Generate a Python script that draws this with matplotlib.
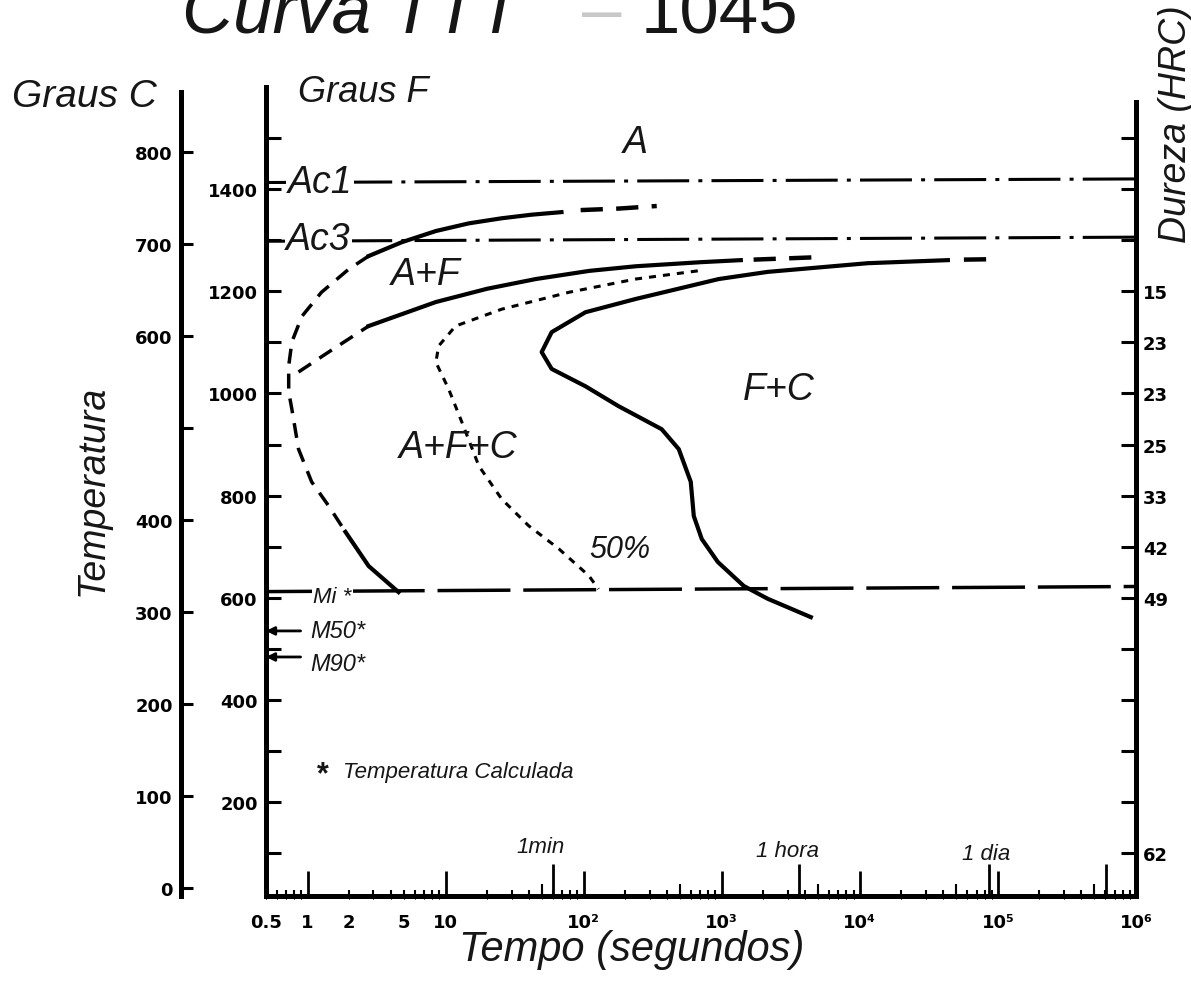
import matplotlib

matplotlib.use("Agg")
import matplotlib.pyplot as plt
import numpy as np

# Time in seconds, temperature in degrees F
AC1_T = [0.5, 1e6]
AC1_F = [1413, 1420]
AC3_T = [0.5, 1e6]
AC3_F = [1298, 1306]
MS_T = [0.5, 1e6]
MS_F = [612, 622]

# ferrite start, upper solid branch and its dashed tail
FS_T = [2.77, 4.8, 8.5, 14.7, 25.5, 42, 69]
FS_F = [1269, 1296, 1318, 1333, 1343, 1350, 1355]
FS_TAIL_T = [95, 180, 338]
FS_TAIL_F = [1359, 1362, 1367]

# outer nose (dashed) and its solid lower end
NOSE_T = [2.77, 1.98, 1.26, 0.91, 0.77, 0.73, 0.73, 0.77, 0.86, 1.07, 1.42, 1.88]
NOSE_F = [1269, 1243, 1198, 1151, 1101, 1054, 1003, 969, 891, 827, 780, 729]
LOW_T = [1.88, 2.77, 4.56]
LOW_F = [729, 662, 611]

# transformation start curve
PS_DASH_T = [0.86, 1.42, 2.77]
PS_DASH_F = [1042, 1081, 1132]
PS_T = [2.77, 8.5, 20, 45, 110, 238, 705, 1374]
PS_F = [1132, 1179, 1205, 1224, 1240, 1249, 1257, 1261]
PS_TAIL_T = [1700, 5200]
PS_TAIL_F = [1262, 1267]

# 50 % curve
HALF_T = [670, 238, 78, 25.5, 11.8, 8.9, 8.5, 10.5, 13.1, 17.4, 25.5, 39.9, 65.9, 109, 128]
HALF_F = [1240, 1224, 1198, 1165, 1132, 1093, 1061, 1009, 944, 858, 793, 741, 696, 643, 617]

# transformation finish curve
PF_T = [43400, 11400, 2150, 951, 406, 238, 103, 58.6, 49.6, 58.6, 103, 179,
        367, 488, 596, 627, 716, 936, 1443, 2150, 4415]
PF_F = [1261, 1255, 1238, 1224, 1200, 1185, 1159, 1120, 1081, 1048, 1014, 975,
        930, 891, 827, 760, 715, 670, 623, 598, 562]
PF_TAIL_T = [56700, 101600]
PF_TAIL_F = [1262, 1263]

# martensite temperatures (deg F)
M50_F = 535
M90_F = 484

# axis ticks
F_MAJOR = [200, 400, 600, 800, 1000, 1200, 1400]
F_MINOR = [100, 300, 500, 700, 900, 1100, 1300, 1500]
C_TICKS = [0, 100, 200, 300, 400, 500, 600, 700, 800]
C_LABELS = ["0", "100", "200", "300", "400", "", "600", "700", "800"]
HRC_TICKS = [100, 200, 300, 400, 500, 600, 700, 800, 900, 1000, 1100, 1200, 1300, 1400, 1500]
HRC_LABELS = ["62", "", "", "", "", "49", "42", "33", "25", "23", "23", "15", "", "", ""]
T_DECADES = [1, 10, 1e2, 1e3, 1e4, 1e5]
T_DECADE_LABELS = ["1", "10", "10²", "10³", "10⁴", "10⁵"]
T_SPECIAL = [60, 3600, 86400, 604800]   # 1 min, 1 hour, 1 day, 1 week

LABEL_FONT = "Liberation Sans"
TICK_FONT = dict(family="DejaVu Sans", weight="bold", size=13)
INK = "#161616"

fig = plt.figure(figsize=(11.91, 9.95), dpi=100)
W, H = 1191, 995
ax = fig.add_axes([266 / W, 1 - 897 / H, 870 / W, (897 - 88) / H])
ax.set_xscale("log")
ax.set_xlim(0.5, 1e6)
ax.set_ylim(16, 1600)

# reference lines
ax.plot(AC1_T, AC1_F, color="black", lw=2.2, ls=(0, (17, 3, 1.3, 3)))
ax.plot(AC3_T, AC3_F, color="black", lw=2.2, ls=(0, (17, 3, 1.3, 3)))
ax.plot(MS_T, MS_F, color="black", lw=2.5, ls=(0, (21, 3.7)))

# transformation curves
ax.plot(FS_T, FS_F, color="black", lw=3)
ax.plot(FS_TAIL_T, FS_TAIL_F, color="black", lw=3.2, ls=(0, (5, 3)))
ax.plot(NOSE_T, NOSE_F, color="black", lw=2.5, ls=(0, (4.3, 2.9)))
ax.plot(LOW_T, LOW_F, color="black", lw=3)
ax.plot(PS_DASH_T, PS_DASH_F, color="black", lw=2.5, ls=(0, (4.3, 2.9)))
ax.plot(PS_T, PS_F, color="black", lw=3)
ax.plot(PS_TAIL_T, PS_TAIL_F, color="black", lw=3.2, ls=(0, (5, 3)))
ax.plot(HALF_T, HALF_F, color="black", lw=2.2, ls=(0, (2.3, 2.3)))
ax.plot(PF_T, PF_F, color="black", lw=3)
ax.plot(PF_TAIL_T, PF_TAIL_F, color="black", lw=3.2, ls=(0, (5, 3)))

for temp in (M50_F, M90_F):
    ax.annotate("", xy=(0.5, temp), xytext=(0.89, temp),
                arrowprops=dict(arrowstyle="-|>", lw=2, color="black",
                                mutation_scale=12, shrinkA=0, shrinkB=0))

# spines
for side in ("top", "right"):
    ax.spines[side].set_visible(False)
ax.spines["left"].set_linewidth(3.6)
ax.spines["bottom"].set_linewidth(3.6)

# Fahrenheit axis
ax.set_yticks(F_MAJOR, [str(v) for v in F_MAJOR])
ax.set_yticks(F_MINOR, minor=True)
ax.tick_params(axis="y", which="both", direction="in", length=11, width=2.2, pad=6)
for lab in ax.get_yticklabels():
    lab.set(**TICK_FONT)

# time axis
minor_t = [m * 10.0 ** d for d in range(-1, 6) for m in range(2, 10)
           if 0.5 <= m * 10.0 ** d <= 1e6]
minor_lab = ["0.5" if t == 0.5 else "2" if t == 2 else "5" if t == 5 else "" for t in minor_t]
ax.set_xticks(T_DECADES, T_DECADE_LABELS)
ax.set_xticks(minor_t, minor_lab, minor=True)
ax.tick_params(axis="x", which="major", direction="in", length=18, width=2, pad=12)
ax.tick_params(axis="x", which="minor", direction="in", length=4, width=1.5, pad=12)
for lab in ax.get_xticklabels() + ax.get_xticklabels(minor=True):
    lab.set(**TICK_FONT)

mid_ax = ax.secondary_xaxis("bottom")
mid_ax.set_xticks([5 * 10.0 ** d for d in range(1, 6)], [""] * 5)
mid_ax.tick_params(direction="in", length=9, width=1.5)
mid_ax.spines["bottom"].set_visible(False)

time_ax = ax.secondary_xaxis("bottom")
time_ax.set_xticks(T_SPECIAL + [1e6], [""] * 4 + ["10⁶"])
time_ax.tick_params(direction="in", length=23, width=2, pad=12)
time_ax.spines["bottom"].set_visible(False)
for lab in time_ax.get_xticklabels():
    lab.set(**TICK_FONT)


def f2c(f):
    return (np.asarray(f) - 32) * 5 / 9


def c2f(c):
    return np.asarray(c) * 9 / 5 + 32


# Celsius axis
c_ax = ax.secondary_yaxis(-0.0977, functions=(f2c, c2f))
c_ax.set_yticks(C_TICKS, C_LABELS)
c_ax.tick_params(direction="in", length=8.5, width=2.2, pad=6)
c_ax.spines["left"].set_linewidth(3.6)
c_ax.spines["left"].set_bounds(-9, 866)
for lab in c_ax.get_yticklabels():
    lab.set(**TICK_FONT)

# hardness axis
hrc_ax = ax.secondary_yaxis("right")
hrc_ax.set_yticks(HRC_TICKS, HRC_LABELS)
hrc_ax.tick_params(direction="in", length=11, width=2.2, pad=5)
hrc_ax.spines["right"].set_linewidth(3.6)
hrc_ax.spines["right"].set_bounds(16, 1570)
for lab in hrc_ax.get_yticklabels():
    lab.set(**TICK_FONT)

# region and line labels
lbl = dict(family=LABEL_FONT, style="italic", color=INK)
box = dict(facecolor="white", edgecolor="none", pad=1)
ax.text(238, 1492, "A", fontsize=27, ha="center", va="center", **lbl)
ax.text(0.72, 1414, "Ac1", fontsize=27, ha="left", va="center", bbox=box, **lbl)
ax.text(0.7, 1302, "Ac3", fontsize=27, ha="left", va="center", bbox=box, **lbl)
ax.text(7.2, 1234, "A+F", fontsize=27, ha="center", va="center", **lbl)
ax.text(12.4, 895, "A+F+C", fontsize=27, ha="center", va="center", **lbl)
ax.text(2590, 1009, "F+C", fontsize=27, ha="center", va="center", **lbl)
ax.text(109, 696, "50%", fontsize=22, ha="left", va="center", **lbl)
ax.text(1.1, 603, "Mi *", fontsize=16, ha="left", va="center", bbox=box, **lbl)
ax.text(1.05, 535, "M50*", fontsize=17, ha="left", va="center", **lbl)
ax.text(1.05, 472, "M90*", fontsize=17, ha="left", va="center", **lbl)
ax.text(1.28, 255, "*", fontsize=22, ha="center", va="center", color=INK,
        family=LABEL_FONT, weight="bold")
ax.text(1.82, 259, "Temperatura Calculada", fontsize=16, ha="left", va="center", **lbl)
ax.text(48.8, 112, "1min", fontsize=16, ha="center", va="center", **lbl)
ax.text(3007, 106, "1 hora", fontsize=16, ha="center", va="center", **lbl)
ax.text(81900, 99, "1 dia", fontsize=16, ha="center", va="center", **lbl)

# figure-level titles (the heading runs off the top edge)
fig.text(182 / W, 1 - 33 / H, "Curva TTT", fontsize=51, ha="left", va="baseline",
         family=LABEL_FONT, style="italic", color=INK)
fig.text(582 / W, 1 - 33 / H, "–", fontsize=51, ha="left", va="baseline",
         family=LABEL_FONT, color="#c8c8c8")
fig.text(641 / W, 1 - 33 / H, "1045", fontsize=51, ha="left", va="baseline",
         family=LABEL_FONT, color=INK)
fig.text(12 / W, 1 - 97 / H, "Graus C", fontsize=28, ha="left", va="center", **lbl)
fig.text(298 / W, 1 - 92 / H, "Graus F", fontsize=26, ha="left", va="center", **lbl)
fig.text(93 / W, 1 - 490 / H, "Temperatura", fontsize=27, rotation=90,
         ha="center", va="center", **lbl)
fig.text(1176 / W, 1 - 124 / H, "Dureza (HRC)", fontsize=27, rotation=90,
         ha="center", va="center", **lbl)
fig.text(632 / W, 1 - 950 / H, "Tempo (segundos)", fontsize=30,
         ha="center", va="center", **lbl)

fig.savefig("out.png", dpi=100, facecolor="white")
